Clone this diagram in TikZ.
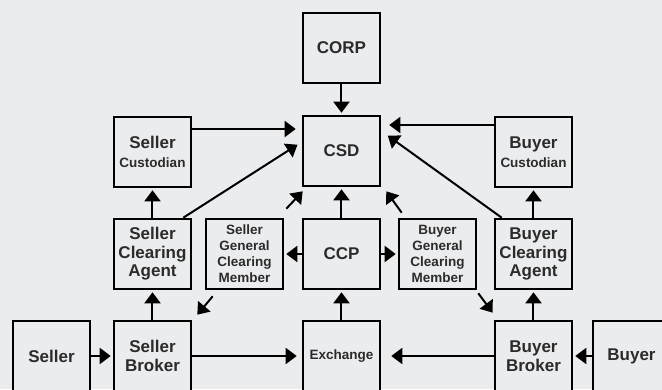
\documentclass[tikz,border=0pt]{standalone}
\usepackage{fontspec}
\setmainfont{Liberation Sans}
\usepackage{tikz}
\usetikzlibrary{arrows.meta}

\definecolor{bggray}{HTML}{EBECEE}
\definecolor{inkgray}{HTML}{2B2B2B}
\newcommand{\bigtxt}{\fontsize{17}{18.5}\selectfont\bfseries}
\newcommand{\smalltxt}{\fontsize{13.5}{16}\selectfont\bfseries}

\begin{document}
\begin{tikzpicture}[-{Triangle[length=11pt,width=16pt]},shorten >=2pt,line width=2pt,
                    node distance=96pt,x=1pt,y=1pt]
  \tikzstyle{box}=[draw=black,fill=bggray,line width=2.6pt,minimum width=77pt,
                   minimum height=70pt,inner sep=0pt,align=center,text=inkgray,font=\bigtxt]

  \path[use as bounding box,fill=bggray,-] (-341.5,-135) rectangle (320.5,254);

  \node[box]         (CCP)                                  {CCP};
  \node[box,font=\smalltxt] (SGCM) [left of=CCP, node distance=97pt]  {Seller\\General\\Clearing\\Member};
  \node[box]         (SCA)  [left of=SGCM, node distance=92pt] {Seller\\Clearing\\Agent};
  \node[box,font=\smalltxt] (BGCM) [right of=CCP]                   {Buyer\\General\\Clearing\\Member};
  \node[box]         (BCA)  [right of=BGCM]                 {Buyer\\Clearing\\Agent};

  \node[box]         (CSD)   [above of=CCP, node distance=103pt] {CSD};
  \node[box]         (CORP)  [above of=CSD, node distance=103pt] {CORP};
  \node[box]         (SCust) [above of=SCA, node distance=102pt] {Seller\\{\smalltxt Custodian}};
  \node[box]         (BCust) [above of=BCA, node distance=102pt] {Buyer\\{\smalltxt Custodian}};

  \node[box,font=\smalltxt] (Exch) [below of=CCP, node distance=102pt] {Exchange};
  \node[box]         (SBrk)   [below of=SCA, node distance=102pt] {Seller\\Broker};
  \node[box]         (BBrk)   [below of=BCA, node distance=102pt] {Buyer\\Broker};
  \node[box]         (Seller) [left of=SBrk, node distance=101pt] {Seller};
  \node[box]         (Buyer)  [right of=BBrk, node distance=98pt] {Buyer};

  \path (CORP) edge (CSD)
        (CCP) edge (CSD)
        (Exch) edge (CCP)
        (CCP) edge (SGCM)
        (CCP) edge (BGCM)
        (SCA) edge (SCust)
        (BCA) edge (BCust)
        (SBrk) edge (SCA)
        (BBrk) edge (BCA)
        (Seller) edge (SBrk)
        (Buyer) edge (BBrk)
        (SBrk) edge [shorten >=5pt]  (Exch)
        (BBrk) edge [shorten >=10pt] (Exch)
        ([yshift=23pt]SCust.east) edge [shorten >=6pt] ([yshift=22pt]CSD.west)
        ([yshift=27pt]BCust.west) edge [shorten >=8pt] ([yshift=26pt]CSD.east)
        ([xshift=-9pt]SCA.north east) edge [shorten >=5pt] ([yshift=9pt]CSD.west)
        ([xshift=8pt]BCA.north west)  edge [shorten >=8pt] ([yshift=20pt]CSD.east)
        ([shift={(2pt,9pt)}]SGCM.north east) edge [shorten >=0pt] ([shift={(1pt,-4pt)}]CSD.south west)
        ([shift={(4pt,5pt)}]BGCM.north west) edge [shorten >=0pt] ([shift={(5pt,-4pt)}]CSD.south east)
        ([shift={(8pt,-6pt)}]SGCM.south west) edge [shorten >=0pt] ([shift={(5pt,5pt)}]SBrk.north east)
        ([shift={(1pt,-3pt)}]BGCM.south east) edge [shorten >=0pt] ([shift={(-1pt,7pt)}]BBrk.north west);
\end{tikzpicture}
\end{document}
